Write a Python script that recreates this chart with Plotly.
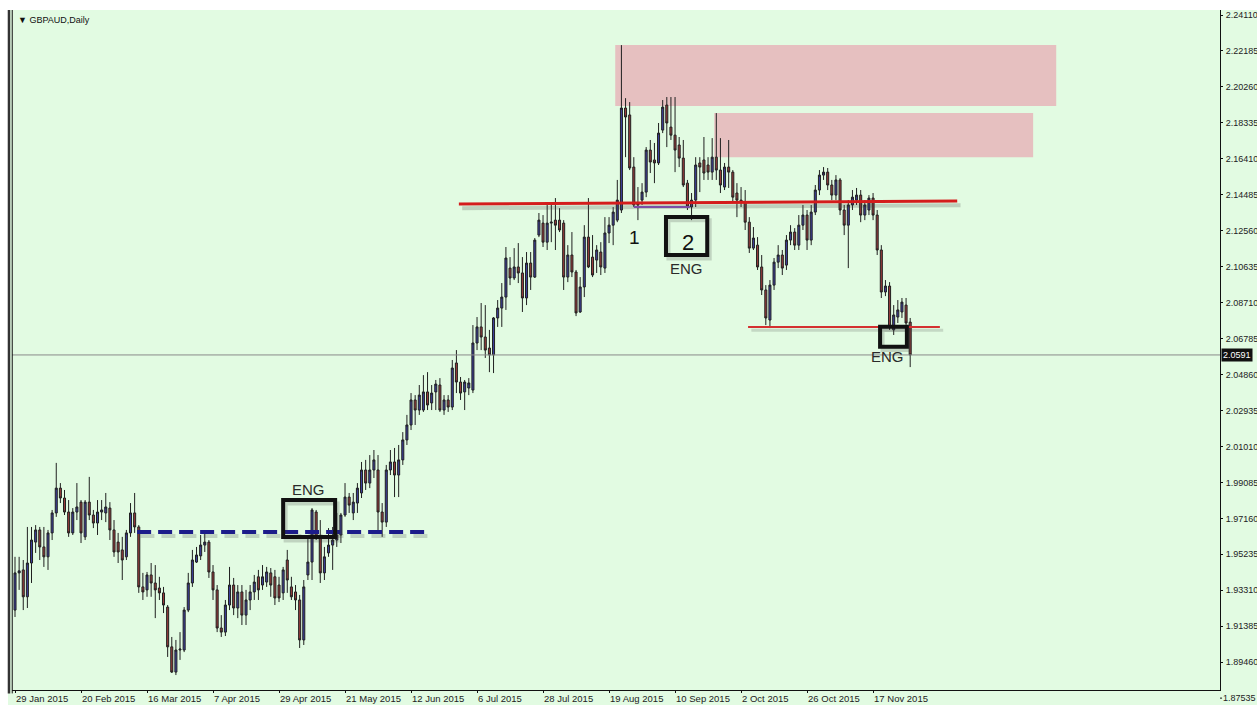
import plotly.graph_objects as go

# ---------------- data (GBPAUD daily) ----------------
tick_bars = [0, 16, 32, 48, 64, 80, 96, 112, 128, 144, 160, 176, 192, 208]
tick_dates = ["29 Jan 2015", "20 Feb 2015", "16 Mar 2015", "7 Apr 2015", "29 Apr 2015",
              "21 May 2015", "12 Jun 2015", "6 Jul 2015", "28 Jul 2015", "19 Aug 2015",
              "10 Sep 2015", "2 Oct 2015", "26 Oct 2015", "17 Nov 2015"]

price_ticks = [2.24110, 2.22185, 2.20260, 2.18335, 2.16410, 2.14485, 2.12560, 2.10635,
               2.08710, 2.06785, 2.04860, 2.02935, 2.01010, 1.99085, 1.97160, 1.95235,
               1.93310, 1.91385, 1.89460]
bottom_tick = 1.87535
last_price = 2.0591

open_ = [1.9225, 1.9424, 1.9440, 1.9296, 1.9477, 1.9589, 1.9654, 1.9563, 1.9510, 1.9638,
         1.9745, 1.9878, 1.9825, 1.9750, 1.9638, 1.9750, 1.9803, 1.9617, 1.9803, 1.9734,
         1.9691, 1.9750, 1.9745, 1.9771, 1.9654, 1.9589, 1.9547, 1.9510, 1.9638, 1.9745,
         1.9670, 1.9349, 1.9333, 1.9413, 1.9370, 1.9343, 1.9317, 1.9241, 1.9028, 1.8893,
         1.9011, 1.9011, 1.9225, 1.9370, 1.9482, 1.9515, 1.9573, 1.9589, 1.9429, 1.9333,
         1.9129, 1.9107, 1.9252, 1.9359, 1.9236, 1.9322, 1.9198, 1.9279, 1.9322, 1.9403,
         1.9359, 1.9375, 1.9424, 1.9403, 1.9359, 1.9317, 1.9493, 1.9349, 1.9322, 1.9279,
         1.9065, 1.9413, 1.9482, 1.9750, 1.9617, 1.9424, 1.9531, 1.9573, 1.9600, 1.9627,
         1.9734, 1.9830, 1.9745, 1.9798, 1.9852, 1.9975, 1.9905, 1.9975, 1.9975, 1.9750,
         1.9696, 1.9975, 2.0018, 1.9948, 2.0029, 2.0136, 2.0216, 2.0350, 2.0296, 2.0296,
         2.0393, 2.0334, 2.0393, 2.0430, 2.0296, 2.0350, 2.0312, 2.0548, 2.0446, 2.0393,
         2.0414, 2.0403, 2.0655, 2.0741, 2.0687, 2.0628, 2.0591, 2.0789, 2.0842, 2.0901,
         2.1056, 2.1003, 2.1062, 2.1030, 2.0896, 2.1083, 2.1008, 2.1233, 2.1297, 2.1195,
         2.1297, 2.1313, 2.1313, 2.1297, 2.1008, 2.1126, 2.1035, 2.0821, 2.0955, 2.1222,
         2.1115, 2.1099, 2.1142, 2.1056, 2.1244, 2.1286, 2.1313, 2.1367, 2.1913, 2.1876,
         2.1597, 2.1394, 2.1420, 2.1463, 2.1688, 2.1635, 2.1619, 2.1795, 2.1929, 2.1811,
         2.1768, 2.1715, 2.1645, 2.1511, 2.1383, 2.1420, 2.1619, 2.1635, 2.1608, 2.1570,
         2.1650, 2.1581, 2.1490, 2.1597, 2.1570, 2.1458, 2.1420, 2.1409, 2.1302, 2.1163,
         2.1179, 2.1062, 2.0939, 2.0778, 2.0965, 2.1088, 2.1126, 2.1072, 2.1206, 2.1249,
         2.1179, 2.1286, 2.1340, 2.1206, 2.1356, 2.1474, 2.1554, 2.1570, 2.1501, 2.1447,
         2.1528, 2.1367, 2.1286, 2.1394, 2.1420, 2.1447, 2.1340, 2.1367, 2.1431, 2.1340,
         2.1153, 2.0928, 2.0960, 2.0725, 2.0794, 2.0821, 2.0858, 2.0767]

high = [1.9510, 1.9510, 1.9493, 1.9670, 1.9670, 1.9680, 1.9670, 1.9670, 1.9654, 1.9761,
        2.0013, 1.9905, 1.9868, 1.9814, 1.9771, 1.9905, 1.9814, 1.9814, 1.9938, 1.9761,
        1.9814, 1.9814, 1.9852, 1.9803, 1.9707, 1.9638, 1.9617, 1.9654, 1.9798, 1.9852,
        1.9680, 1.9424, 1.9429, 1.9477, 1.9466, 1.9403, 1.9349, 1.9252, 1.9081, 1.9065,
        1.9107, 1.9241, 1.9424, 1.9547, 1.9563, 1.9627, 1.9649, 1.9600, 1.9466, 1.9359,
        1.9198, 1.9279, 1.9456, 1.9397, 1.9359, 1.9359, 1.9333, 1.9359, 1.9413, 1.9440,
        1.9466, 1.9456, 1.9450, 1.9440, 1.9403, 1.9456, 1.9547, 1.9403, 1.9359, 1.9306,
        1.9386, 1.9627, 1.9771, 1.9761, 1.9707, 1.9563, 1.9664, 1.9670, 1.9745, 1.9745,
        1.9905, 1.9852, 1.9852, 1.9905, 2.0018, 2.0029, 2.0055, 2.0082, 2.0055, 1.9798,
        2.0002, 2.0082, 2.0093, 2.0109, 2.0178, 2.0270, 2.0387, 2.0376, 2.0430, 2.0483,
        2.0499, 2.0430, 2.0457, 2.0467, 2.0376, 2.0376, 2.0564, 2.0617, 2.0473, 2.0457,
        2.0467, 2.0751, 2.0794, 2.0869, 2.0858, 2.0725, 2.0794, 2.0885, 2.0976, 2.1169,
        2.1115, 2.1163, 2.1190, 2.1115, 2.1142, 2.1142, 2.1217, 2.1351, 2.1340, 2.1409,
        2.1409, 2.1431, 2.1377, 2.1313, 2.1179, 2.1249, 2.1046, 2.1008, 2.1286, 2.1431,
        2.1233, 2.1179, 2.1195, 2.1329, 2.1329, 2.1383, 2.1528, 2.2250, 2.1966, 2.1945,
        2.1650, 2.1490, 2.1511, 2.1704, 2.1742, 2.1726, 2.1833, 2.1956, 2.1972, 2.1972,
        2.1972, 2.1758, 2.1742, 2.1528, 2.1458, 2.1650, 2.1650, 2.1758, 2.1650, 2.1752,
        2.1886, 2.1752, 2.1619, 2.1742, 2.1581, 2.1511, 2.1490, 2.1474, 2.1329, 2.1276,
        2.1222, 2.1126, 2.0965, 2.0992, 2.1110, 2.1179, 2.1153, 2.1233, 2.1286, 2.1270,
        2.1340, 2.1394, 2.1367, 2.1394, 2.1501, 2.1581, 2.1597, 2.1592, 2.1528, 2.1554,
        2.1538, 2.1394, 2.1420, 2.1474, 2.1485, 2.1474, 2.1420, 2.1447, 2.1458, 2.1367,
        2.1179, 2.0992, 2.0981, 2.0858, 2.0885, 2.0896, 2.0896, 2.0789]

low = [1.9188, 1.9333, 1.9225, 1.9236, 1.9370, 1.9531, 1.9493, 1.9456, 1.9440, 1.9600,
       1.9724, 1.9798, 1.9734, 1.9617, 1.9627, 1.9707, 1.9584, 1.9600, 1.9707, 1.9664,
       1.9627, 1.9707, 1.9696, 1.9600, 1.9510, 1.9477, 1.9386, 1.9493, 1.9617, 1.9638,
       1.9317, 1.9279, 1.9296, 1.9296, 1.9182, 1.9279, 1.9209, 1.8974, 1.8888, 1.8877,
       1.8958, 1.9000, 1.9214, 1.9349, 1.9477, 1.9493, 1.9536, 1.9397, 1.9279, 1.9107,
       1.9081, 1.9086, 1.9225, 1.9198, 1.9182, 1.9145, 1.9145, 1.9225, 1.9279, 1.9279,
       1.9333, 1.9349, 1.9296, 1.9252, 1.9268, 1.9279, 1.9317, 1.9279, 1.9225, 1.9022,
       1.9038, 1.9386, 1.9386, 1.9600, 1.9370, 1.9386, 1.9510, 1.9440, 1.9563, 1.9584,
       1.9724, 1.9745, 1.9707, 1.9745, 1.9825, 1.9868, 1.9878, 1.9932, 1.9638, 1.9617,
       1.9670, 1.9948, 1.9830, 1.9830, 2.0002, 2.0109, 2.0189, 2.0216, 2.0270, 2.0286,
       2.0296, 2.0296, 2.0296, 2.0286, 2.0270, 2.0286, 2.0296, 2.0387, 2.0350, 2.0296,
       2.0376, 2.0387, 2.0617, 2.0617, 2.0575, 2.0499, 2.0494, 2.0741, 2.0741, 2.0832,
       2.0965, 2.0992, 2.0976, 2.0821, 2.0858, 2.0939, 2.1003, 2.1222, 2.1169, 2.1153,
       2.1195, 2.1153, 2.1249, 2.0939, 2.0981, 2.1008, 2.0799, 2.0816, 2.0901, 2.1056,
       2.1008, 2.1030, 2.1019, 2.1030, 2.1190, 2.1179, 2.1302, 2.1351, 2.1650, 2.1581,
       2.1383, 2.1313, 2.1394, 2.1436, 2.1565, 2.1511, 2.1608, 2.1779, 2.1704, 2.1742,
       2.1570, 2.1597, 2.1490, 2.1367, 2.1313, 2.1383, 2.1463, 2.1528, 2.1528, 2.1528,
       2.1528, 2.1458, 2.1474, 2.1485, 2.1404, 2.1329, 2.1383, 2.1260, 2.1137, 2.1153,
       2.1046, 2.0912, 2.0751, 2.0735, 2.0939, 2.1056, 2.1019, 2.1046, 2.1179, 2.1153,
       2.1153, 2.1260, 2.1153, 2.1179, 2.1340, 2.1447, 2.1528, 2.1474, 2.1420, 2.1420,
       2.1340, 2.1233, 2.1056, 2.1367, 2.1394, 2.1302, 2.1313, 2.1340, 2.1313, 2.1126,
       2.0896, 2.0906, 2.0725, 2.0698, 2.0762, 2.0789, 2.0741, 2.0526]

close = [1.9424, 1.9435, 1.9296, 1.9477, 1.9600, 1.9654, 1.9563, 1.9510, 1.9638, 1.9745,
         1.9878, 1.9825, 1.9750, 1.9638, 1.9750, 1.9777, 1.9638, 1.9803, 1.9734, 1.9691,
         1.9750, 1.9761, 1.9777, 1.9654, 1.9536, 1.9536, 1.9493, 1.9638, 1.9745, 1.9670,
         1.9349, 1.9322, 1.9413, 1.9370, 1.9333, 1.9317, 1.9252, 1.9028, 1.8893, 1.9011,
         1.9016, 1.9225, 1.9370, 1.9493, 1.9520, 1.9573, 1.9589, 1.9429, 1.9333, 1.9129,
         1.9107, 1.9252, 1.9359, 1.9236, 1.9322, 1.9198, 1.9279, 1.9322, 1.9375, 1.9333,
         1.9403, 1.9429, 1.9359, 1.9290, 1.9290, 1.9440, 1.9386, 1.9296, 1.9279, 1.9065,
         1.9349, 1.9482, 1.9761, 1.9617, 1.9424, 1.9510, 1.9573, 1.9600, 1.9627, 1.9734,
         1.9830, 1.9787, 1.9803, 1.9878, 1.9975, 1.9905, 1.9975, 2.0029, 1.9750, 1.9696,
         1.9975, 2.0018, 1.9948, 2.0029, 2.0136, 2.0216, 2.0350, 2.0296, 2.0376, 2.0393,
         2.0323, 2.0387, 2.0435, 2.0296, 2.0350, 2.0312, 2.0521, 2.0446, 2.0387, 2.0446,
         2.0441, 2.0655, 2.0741, 2.0687, 2.0617, 2.0591, 2.0789, 2.0842, 2.0901, 2.1110,
         2.1003, 2.1062, 2.1030, 2.0896, 2.1083, 2.1008, 2.1206, 2.1313, 2.1195, 2.1297,
         2.1302, 2.1286, 2.1260, 2.1008, 2.1126, 2.1035, 2.0816, 2.0955, 2.1222, 2.1062,
         2.1019, 2.1153, 2.1062, 2.1244, 2.1286, 2.1356, 2.1420, 2.1913, 2.1865, 2.1592,
         2.1394, 2.1399, 2.1463, 2.1688, 2.1624, 2.1619, 2.1779, 2.1918, 2.1833, 2.1768,
         2.1688, 2.1645, 2.1501, 2.1383, 2.1420, 2.1608, 2.1597, 2.1565, 2.1570, 2.1650,
         2.1581, 2.1501, 2.1597, 2.1570, 2.1436, 2.1420, 2.1409, 2.1302, 2.1163, 2.1217,
         2.1062, 2.0939, 2.0789, 2.0965, 2.1088, 2.1126, 2.1056, 2.1206, 2.1249, 2.1179,
         2.1286, 2.1340, 2.1206, 2.1356, 2.1474, 2.1554, 2.1570, 2.1501, 2.1447, 2.1528,
         2.1367, 2.1286, 2.1394, 2.1436, 2.1447, 2.1340, 2.1394, 2.1431, 2.1340, 2.1153,
         2.0928, 2.0960, 2.0741, 2.0805, 2.0832, 2.0874, 2.0762, 2.0591]

# analyst drawings, in chart units (bar index, price)
supply_zone_1 = dict(x0=145.5, x1=252.4, y0=2.1924, y1=2.2250)
supply_zone_2 = dict(x0=169.5, x1=246.8, y0=2.1650, y1=2.1886)
neckline = dict(x0=107.6, x1=228.4, y0=2.1399, y1=2.1415)
support_line = dict(x0=177.7, x1=224.2, y=2.0741)
dashed_level = dict(x0=29.6, x1=100.6, y=1.9643)
eng_boxes = [dict(x0=65.0, x1=77.6, y0=1.9616, y1=1.9814),
             dict(x0=157.8, x1=167.8, y0=2.1126, y1=2.1330),
             dict(x0=209.7, x1=216.2, y0=2.0635, y1=2.0742)]

n = len(close)
bars = list(range(n))
Y_RANGE = [1.8797, 2.2438]

BG = "#e2fbe2"
FONT = "Liberation Sans, Arial, sans-serif"

fig = go.Figure()
fig.add_trace(go.Candlestick(
    x=bars, open=open_, high=high, low=low, close=close,
    increasing=dict(line=dict(color="#202020", width=1), fillcolor="#3d3f9c"),
    decreasing=dict(line=dict(color="#202020", width=1), fillcolor="#9a3c3c"),
    whiskerwidth=0, hoverinfo="skip", showlegend=False,
))

shapes = []
for z in (supply_zone_1, supply_zone_2):
    shapes.append(dict(type="rect", xref="x", yref="y", x0=z["x0"], x1=z["x1"],
                       y0=z["y0"], y1=z["y1"], fillcolor="#e6c0c0",
                       line=dict(width=0), layer="below"))
shapes.append(dict(type="line", xref="paper", yref="y", x0=0, x1=1,
                   y0=last_price, y1=last_price, line=dict(color="#8a8a8a", width=1)))
shapes.append(dict(type="line", xref="x", yref="y", x0=neckline["x0"] + 0.8, x1=neckline["x1"] + 0.8,
                   y0=neckline["y0"] - 0.0022, y1=neckline["y1"] - 0.0022,
                   line=dict(color="rgba(60,60,60,0.22)", width=4)))
shapes.append(dict(type="line", xref="x", yref="y", x0=neckline["x0"], x1=neckline["x1"],
                   y0=neckline["y0"], y1=neckline["y1"], line=dict(color="#d41c1c", width=3)))
shapes.append(dict(type="line", xref="x", yref="y", x0=150.0, x1=163.6,
                   y0=2.1383, y1=2.1383, line=dict(color="#7b4fa6", width=2)))
shapes.append(dict(type="line", xref="x", yref="y", x0=support_line["x0"] + 0.8,
                   x1=support_line["x1"] + 0.8, y0=support_line["y"] - 0.0018,
                   y1=support_line["y"] - 0.0018,
                   line=dict(color="rgba(60,60,60,0.18)", width=3)))
shapes.append(dict(type="line", xref="x", yref="y", x0=support_line["x0"], x1=support_line["x1"],
                   y0=support_line["y"], y1=support_line["y"], line=dict(color="#d43030", width=2)))
shapes.append(dict(type="line", xref="x", yref="y", x0=dashed_level["x0"] + 0.8,
                   x1=dashed_level["x1"] + 0.8, y0=dashed_level["y"] - 0.0022,
                   y1=dashed_level["y"] - 0.0022,
                   line=dict(color="rgba(60,60,60,0.2)", width=4, dash="14px,7px")))
shapes.append(dict(type="line", xref="x", yref="y", x0=dashed_level["x0"], x1=dashed_level["x1"],
                   y0=dashed_level["y"], y1=dashed_level["y"],
                   line=dict(color="#1c1c8a", width=4, dash="14px,7px")))
for b in eng_boxes:
    shapes.append(dict(type="rect", xref="x", yref="y", x0=b["x0"] + 0.6, x1=b["x1"] + 0.6,
                       y0=b["y0"] - 0.0018, y1=b["y1"] - 0.0018,
                       line=dict(color="rgba(60,60,60,0.2)", width=4)))
    shapes.append(dict(type="rect", xref="x", yref="y", x0=b["x0"], x1=b["x1"],
                       y0=b["y0"], y1=b["y1"], line=dict(color="#111111", width=4)))
# window frame: white top strip and left border
shapes.append(dict(type="rect", xref="paper", yref="paper", x0=-0.02, x1=1.05, y0=1.0, y1=1.02,
                   fillcolor="white", line=dict(width=0)))
shapes.append(dict(type="rect", xref="paper", yref="paper", x0=-0.02, x1=-0.0033, y0=-0.03, y1=1.02,
                   fillcolor="white", line=dict(width=0)))
shapes.append(dict(type="line", xref="paper", yref="paper", x0=-0.0025, x1=-0.0025, y0=-0.005, y1=1.0,
                   line=dict(color="#333333", width=2.5)))
shapes.append(dict(type="line", xref="paper", yref="paper", x0=0.0002, x1=0.0002, y0=-0.005, y1=1.0,
                   line=dict(color="#111111", width=1)))
# tick mark for the lowest price label (it sits just below the axis range)
bottom_paper = (bottom_tick - Y_RANGE[0]) / (Y_RANGE[1] - Y_RANGE[0])
shapes.append(dict(type="line", xref="paper", yref="paper", x0=1.0, x1=1.0017,
                   y0=bottom_paper, y1=bottom_paper, line=dict(color="#111", width=1)))

annotations = [
    dict(xref="paper", yref="paper", x=0.003, y=0.985, xanchor="left", yanchor="middle",
         text="▼ GBPAUD,Daily", showarrow=False, font=dict(family=FONT, size=9, color="#111")),
    dict(xref="paper", yref="y", x=1.0, xshift=1, y=last_price, xanchor="left", yanchor="middle",
         text="2.0591", showarrow=False, bgcolor="#111111", borderpad=1,
         font=dict(family=FONT, size=9, color="white")),
    dict(xref="paper", yref="paper", x=1.0, xshift=1, y=bottom_paper, xanchor="left", yanchor="middle",
         text=f"{bottom_tick:.5f}", showarrow=False, font=dict(family=FONT, size=9, color="#222")),
    dict(xref="x", yref="y", x=71.2, y=1.9873, text="ENG", showarrow=False,
         font=dict(family=FONT, size=15, color="#2a2a2a")),
    dict(xref="x", yref="y", x=162.7, y=2.1056, text="ENG", showarrow=False,
         font=dict(family=FONT, size=15, color="#2a2a2a")),
    dict(xref="x", yref="y", x=211.6, y=2.0585, text="ENG", showarrow=False,
         font=dict(family=FONT, size=15, color="#2a2a2a")),
    dict(xref="x", yref="y", x=150.1, y=2.1222, text="1", showarrow=False,
         font=dict(family=FONT, size=19, color="#111")),
    dict(xref="x", yref="y", x=163.2, y=2.1195, text="2", showarrow=False,
         font=dict(family=FONT, size=22, color="#111")),
]

fig.update_layout(
    width=1257, height=705,
    margin=dict(l=12, r=37, t=10, b=15, autoexpand=False),
    paper_bgcolor=BG, plot_bgcolor=BG,
    showlegend=False, hovermode=False,
    shapes=shapes, annotations=annotations,
    xaxis=dict(range=[-0.73, 292.1], tickvals=tick_bars, ticktext=tick_dates,
               ticks="outside", ticklen=2, tickcolor="#111", ticklabelposition="outside right",
               tickangle=0, automargin=False, ticklabelstandoff=0,
               tickfont=dict(family=FONT, size=9.5, color="#222"),
               showline=True, linecolor="#111", linewidth=1, showgrid=False, zeroline=False,
               rangeslider=dict(visible=False), fixedrange=True),
    yaxis=dict(range=Y_RANGE, side="right", tickvals=price_ticks,
               ticktext=[f"{v:.5f}" for v in price_ticks], automargin=False,
               ticks="outside", ticklen=2, tickcolor="#111", ticklabelstandoff=1,
               tickfont=dict(family=FONT, size=9, color="#222"),
               showline=True, linecolor="#111", linewidth=1, showgrid=False, zeroline=False,
               fixedrange=True),
)

fig.write_html("out.html", config={"displayModeBar": False},
               post_script="document.body.style.margin='0';document.body.style.overflow='hidden';")
